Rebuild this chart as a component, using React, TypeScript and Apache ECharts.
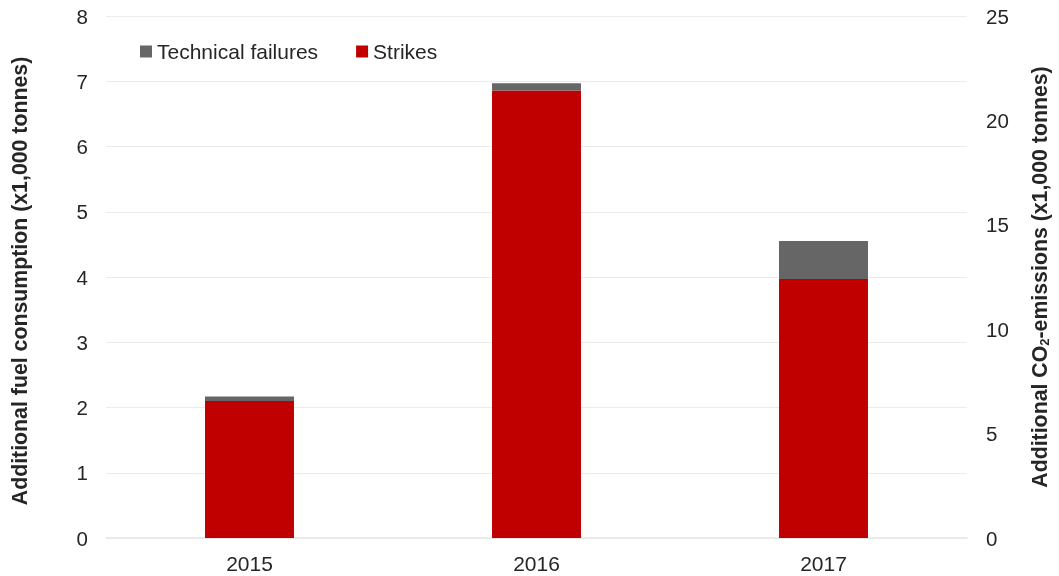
import React, { useEffect, useRef } from "react";
import * as echarts from "echarts";

const years = ["2015", "2016", "2017"];
const strikes = [2.1, 6.86, 3.97];
const technicalFailures = [0.07, 0.11, 0.58];
const leftMax = 8;
const rightMax = 25;

export default function App() {
  const ref = useRef<HTMLDivElement>(null);
  useEffect(() => {
    if (!ref.current) return;
    const chart = echarts.init(ref.current, null, { renderer: "svg" });
    const font = "'Liberation Sans', Arial, sans-serif";
    chart.setOption({
      animation: false,
      textStyle: { fontFamily: font },
      grid: { left: 106, right: 83, top: 16, bottom: 38, containLabel: false },
      legend: {
        left: 135,
        top: 36,
        icon: "rect",
        itemWidth: 12,
        itemHeight: 12,
        itemGap: 38,
        textStyle: { fontSize: 21, color: "#262626", fontFamily: font },
        data: ["Technical failures", "Strikes"],
      },
      xAxis: {
        type: "category",
        data: years,
        axisLine: { show: true, lineStyle: { color: "#e6e6e6", width: 1.5 } },
        axisTick: { show: false },
        axisLabel: { fontSize: 21, color: "#262626", margin: 15, fontFamily: font },
      },
      yAxis: [
        {
          type: "value",
          min: 0,
          max: leftMax,
          interval: 1,
          name: "Additional fuel consumption (x1,000 tonnes)",
          nameLocation: "middle",
          nameGap: 76,
          nameRotate: 90,
          nameTextStyle: { fontSize: 21.3, fontWeight: "bold", color: "#262626", fontFamily: font, padding: [0, 8, 0, 0] },
          axisLine: { show: false },
          axisTick: { show: false },
          axisLabel: { fontSize: 20.5, color: "#262626", margin: 18, fontFamily: font },
          splitLine: { lineStyle: { color: "#ebebeb", width: 1.2 } },
        },
        {
          type: "value",
          min: 0,
          max: rightMax,
          interval: 5,
          position: "right",
          name: "Additional CO{sub|2}-emissions (x1,000 tonnes)",
          nameLocation: "middle",
          nameGap: 62,
          nameRotate: 90,
          nameTextStyle: {
            fontSize: 21.3,
            fontWeight: "bold",
            color: "#262626",
            fontFamily: font,
            rich: {
              sub: { fontSize: 13, fontWeight: "bold", color: "#262626", verticalAlign: "bottom", padding: [9, 0, 0, 0], fontFamily: font },
            },
          },
          axisLine: { show: false },
          axisTick: { show: false },
          axisLabel: { fontSize: 20.5, color: "#262626", margin: 19, fontFamily: font },
          splitLine: { show: false },
        },
      ],
      series: [
        {
          name: "Strikes",
          type: "bar",
          stack: "total",
          data: strikes,
          barWidth: "31%",
          itemStyle: { color: "#c00000" },
        },
        {
          name: "Technical failures",
          type: "bar",
          stack: "total",
          data: technicalFailures,
          barWidth: "31%",
          itemStyle: { color: "#666666" },
        },
      ],
    });
    return () => chart.dispose();
  }, []);
  return <div ref={ref} style={{ position: "fixed", left: 0, top: 0, width: 1059, height: 576 }} />;
}
